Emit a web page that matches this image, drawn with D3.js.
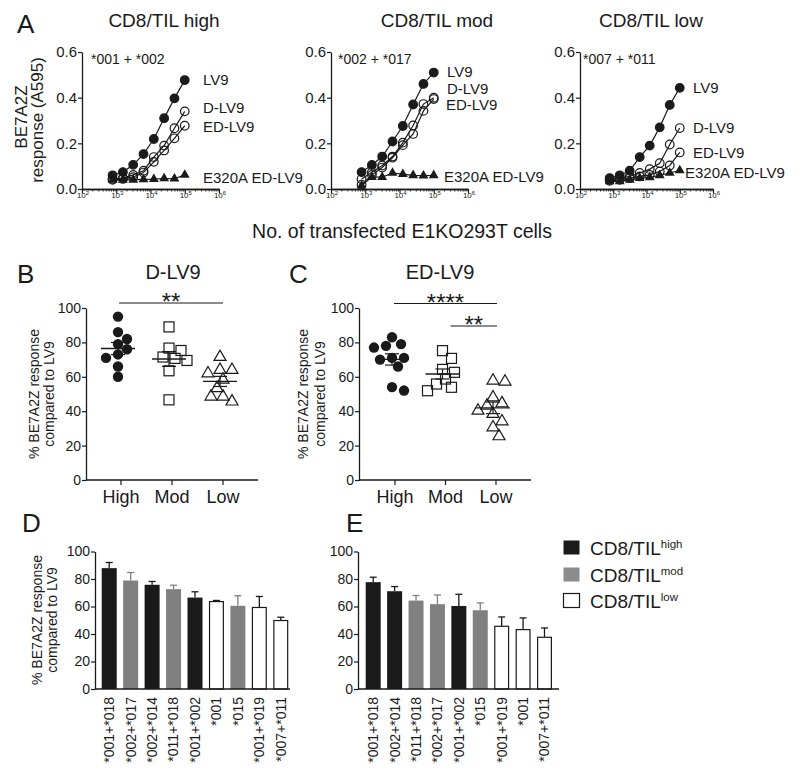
<!DOCTYPE html>
<html><head><meta charset="utf-8">
<script src="https://cdn.jsdelivr.net/npm/d3@7"></script>
<style>
body{margin:0;background:#fff}
svg{display:block}
text{font-family:"Liberation Sans",Arial,Helvetica,sans-serif;fill:#1a1a1a}
</style>
</head><body>
<svg id="c" width="800" height="777"></svg>
<script>
// ---------------- DATA ----------------
// Panel A: number of transfected cells (x) and responses (A595)
const cellsA = [781, 1563, 3125, 6250, 12500, 25000, 50000, 100000];
const seriesNamesA = ["LV9", "D-LV9", "ED-LV9", "E320A ED-LV9"];
const panelTitlesA = ["CD8/TIL high", "CD8/TIL mod", "CD8/TIL low"];
const donorLabelsA = ["*001 + *002", "*002 + *017", "*007 + *011"];
const highLV9   = [0.060, 0.074, 0.106, 0.153, 0.219, 0.310, 0.397, 0.477];
const highDLV9  = [0.044, 0.048, 0.062, 0.080, 0.140, 0.190, 0.266, 0.340];
const highEDLV9 = [0.040, 0.044, 0.052, 0.072, 0.119, 0.169, 0.222, 0.277];
const highE320A = [0.040, 0.040, 0.040, 0.042, 0.043, 0.046, 0.045, 0.062];
const modLV9    = [0.074, 0.105, 0.142, 0.208, 0.276, 0.370, 0.460, 0.510];
const modDLV9   = [0.044, 0.073, 0.103, 0.142, 0.203, 0.278, 0.372, 0.400];
const modEDLV9  = [0.019, 0.062, 0.094, 0.137, 0.192, 0.241, 0.342, 0.394];
const modE320A  = [0.015, 0.052, 0.052, 0.070, 0.065, 0.060, 0.058, 0.060];
const lowLV9    = [0.048, 0.060, 0.080, 0.140, 0.190, 0.270, 0.368, 0.443];
const lowDLV9   = [0.040, 0.048, 0.055, 0.070, 0.087, 0.113, 0.195, 0.267];
const lowEDLV9  = [0.036, 0.040, 0.048, 0.055, 0.062, 0.077, 0.103, 0.160];
const lowE320A  = [0.033, 0.033, 0.040, 0.048, 0.051, 0.060, 0.070, 0.081];
const yTicksA = [0, 0.2, 0.4, 0.6];
const xExponentsA = [2, 3, 4, 5, 6];

// Panels B and C: % response compared to LV9
const groupsBC = ["High", "Mod", "Low"];
const dlv9High  = [95, 86, 82, 79, 76, 73, 71, 66, 60];
const dlv9Mod   = [89, 75.3, 76.7, 71.5, 69.5, 70.7, 63.5, 46.6];
const dlv9Low   = [71.5, 64, 64, 62, 58.3, 53.4, 48.5, 48.5, 45.6];
const edlv9High = [83, 79, 78, 77, 71, 71, 70, 66, 54, 52];
const edlv9Mod  = [75.2, 70.7, 64.3, 62.6, 58.7, 55.8, 53.9, 51.9];
const edlv9Low  = [57.8, 57.2, 48, 44.6, 43.2, 38.4, 40.3, 34.1, 30.6, 25.4];
const yTicksPct = [0, 20, 40, 60, 80, 100];

// Panels D and E: mean % response per haplotype, with upper error
const allelesD = ["*001+*018", "*002+*017", "*002+*014", "*011+*018", "*001+*002", "*001", "*015", "*001+*019", "*007+*011"];
const levelD   = ["high", "mod", "high", "mod", "high", "low", "mod", "low", "low"];
const meanD    = [87.9, 78.9, 75.8, 72.6, 66.5, 63.6, 60.5, 59.3, 49.8];
const errD     = [4.1, 5.8, 2.4, 2.9, 4.2, 0.8, 7.3, 8.0, 2.4];
const allelesE = ["*001+*018", "*002+*014", "*011+*018", "*002+*017", "*001+*002", "*015", "*001+*019", "*001", "*007+*011"];
const levelE   = ["high", "high", "mod", "mod", "high", "mod", "low", "low", "low"];
const meanE    = [77.7, 71.1, 64.3, 61.7, 60.4, 57.3, 45.6, 43.2, 37.6];
const errE     = [3.6, 3.4, 3.7, 6.7, 8.5, 5.3, 6.8, 8.5, 6.8];
const legendLevels = ["high", "mod", "low"];

// ---------------- DRAWING ----------------
const svg = d3.select("#c");
const INK = "#1a1a1a";
const GRAY = "#808080";
const fillOf = {high: INK, mod: GRAY, low: "#ffffff"};
const errColOf = {high: INK, mod: GRAY, low: INK};

function text(x, y, s, size, anchor = "start", rot = false) {
  const t = svg.append("text").attr("x", x).attr("y", y)
    .attr("font-size", size).attr("text-anchor", anchor).text(s);
  if (rot) t.attr("transform", `rotate(-90,${x},${y})`);
  return t;
}
function styleAxis(g) {
  g.selectAll(".domain").attr("stroke", INK).attr("stroke-width", 1.3);
  g.selectAll(".tick line").attr("stroke", INK).attr("stroke-width", 1.2);
  g.selectAll(".tick text").attr("fill", INK).style("font-family", '"Liberation Sans",Arial,sans-serif');
}

// ----- Panel A -----
text(17, 33, "A", 26);
text(27, 117, "BE7A2Z", 17, "middle", true);
text(43, 120, "response (A595)", 17, "middle", true);
text(402, 238, "No. of transfected E1KO293T cells", 19.5, "middle");

const seriesA = [
  [highLV9, highDLV9, highEDLV9, highE320A],
  [modLV9, modDLV9, modEDLV9, modE320A],
  [lowLV9, lowDLV9, lowEDLV9, lowE320A]
];
const markerA = ["filled", "open", "open", "tri"];
const layoutA = [
  {left: 82,  width: 137, titleX: 164, donorX: 91,  labelX: [203,203,203,203], labelY: [85, 113, 132, 183]},
  {left: 331, width: 137, titleX: 437, donorX: 338, labelX: [447,447,446,444], labelY: [77, 93.5, 110, 182]},
  {left: 580, width: 133, titleX: 651, donorX: 583, labelX: [693,693,693,685], labelY: [93, 133, 158, 178]}
];
const yA = d3.scaleLinear().domain([0, 0.6]).range([189, 52]);

layoutA.forEach((L, i) => {
  const x = d3.scaleLog().domain([1e2, 1e6]).range([L.left, L.left + L.width]);
  text(L.titleX, 27, panelTitlesA[i], 19, "middle");
  text(L.donorX, 64, donorLabelsA[i], 14);

  const gy = svg.append("g").attr("transform", `translate(${L.left},0)`)
    .call(d3.axisLeft(yA).tickValues(yTicksA).tickFormat(d3.format(".1f")).tickSize(4).tickSizeOuter(0));
  gy.selectAll(".tick text").attr("font-size", 15).attr("x", -5);
  styleAxis(gy);

  const minors = [];
  xExponentsA.slice(0, -1).forEach(e => { for (let m = 2; m <= 9; m++) minors.push(m * Math.pow(10, e)); });
  const gm = svg.append("g").attr("transform", `translate(0,189)`)
    .call(d3.axisBottom(x).tickValues(minors).tickFormat("").tickSize(2.5).tickSizeOuter(0));
  styleAxis(gm);
  gm.selectAll(".tick line").attr("stroke-width", 0.9);
  const gx = svg.append("g").attr("transform", `translate(0,189)`)
    .call(d3.axisBottom(x).tickValues(xExponentsA.map(e => Math.pow(10, e))).tickFormat("").tickSize(4.5).tickSizeOuter(0));
  styleAxis(gx);
  xExponentsA.forEach(e => {
    const t = text(x(Math.pow(10, e)) + 1, 198, "10", 8, "middle");
    t.append("tspan").attr("dy", -3.5).attr("font-size", 6).text(e);
  });

  const line = d3.line().x(d => x(d[0])).y(d => yA(d[1]));
  seriesA[i].forEach((vals, s) => {
    const pts = cellsA.map((c, k) => [c, vals[k]]);
    svg.append("path").datum(pts).attr("d", line)
      .attr("fill", "none").attr("stroke", INK).attr("stroke-width", 1.2);
  });
  seriesA[i].forEach((vals, s) => {
    const pts = cellsA.map((c, k) => [c, vals[k]]);
    const g = svg.append("g");
    if (markerA[s] === "tri") {
      g.selectAll("path").data(pts).join("path")
        .attr("d", d3.symbol(d3.symbolTriangle, 42))
        .attr("transform", d => `translate(${x(d[0])},${yA(d[1])})`)
        .attr("fill", INK);
    } else {
      g.selectAll("circle").data(pts).join("circle")
        .attr("cx", d => x(d[0])).attr("cy", d => yA(d[1])).attr("r", 4.3)
        .attr("fill", markerA[s] === "filled" ? INK : "none")
        .attr("stroke", INK).attr("stroke-width", 1.2);
    }
    text(L.labelX[s], L.labelY[s], seriesNamesA[s], 15);
  });
});

// ----- Panels B, C -----
const yPct = d3.scaleLinear().domain([0, 100]).range([480, 308]);
const layoutBC = [
  {sets: [dlv9High, dlv9Mod, dlv9Low], axisX: 86, range: [121, 223], axisEnd: 258,
   title: "D-LV9", titleX: 173, letter: "B", letterX: 17, ylabX: [38.5, 54],
   sigs: [{a: "High", b: "Low", y: 303, s: "**", da: -2, db: 0}]},
  {sets: [edlv9High, edlv9Mod, edlv9Low], axisX: 359, range: [395, 496], axisEnd: 531,
   title: "ED-LV9", titleX: 440, letter: "C", letterX: 289, ylabX: [308, 325],
   sigs: [{a: "High", b: "Low", y: 303.5, s: "****", da: -1, db: 1}, {a: "Mod", b: "Low", y: 326, s: "**", da: 5, db: 1}]}
];
const shapes = ["circle", "square", "triangle"];

function swarm(vals, cx, r) {
  const order = vals.map((v, i) => i).sort((a, b) => vals[b] - vals[a]);
  const placed = [];
  const out = new Array(vals.length);
  order.forEach(i => {
    const py = yPct(vals[i]);
    for (let k = 0; k < 40; k++) {
      const off = (k % 2 ? 1 : -1) * Math.ceil(k / 2) * 3;
      const px = cx + off;
      if (placed.every(p => Math.hypot(p[0] - px, p[1] - py) >= 2 * r - 0.5)) {
        placed.push([px, py]); out[i] = [px, py]; break;
      }
      if (k === 39) { placed.push([px, py]); out[i] = [px, py]; }
    }
  });
  return out;
}

layoutBC.forEach(L => {
  const x = d3.scalePoint().domain(groupsBC).range(L.range);
  text(L.letterX, 283, L.letter, 26);
  text(L.titleX, 279, L.title, 20, "middle");
  text(L.ylabX[0], 394, "% BE7A2Z response", 14, "middle", true);
  text(L.ylabX[1], 394, "compared to LV9", 14, "middle", true);

  const gy = svg.append("g").attr("transform", `translate(${L.axisX},0)`)
    .call(d3.axisLeft(yPct).tickValues(yTicksPct).tickSize(4).tickSizeOuter(0));
  gy.selectAll(".tick text").attr("font-size", 14).attr("x", -5);
  styleAxis(gy);
  const gx = svg.append("g").attr("transform", `translate(0,480)`);
  gx.append("line").attr("x1", L.axisX).attr("x2", L.axisEnd).attr("y1", 0).attr("y2", 0)
    .attr("stroke", INK).attr("stroke-width", 1.3);
  groupsBC.forEach(gname => {
    gx.append("line").attr("x1", x(gname)).attr("x2", x(gname)).attr("y1", 0).attr("y2", 5)
      .attr("stroke", INK).attr("stroke-width", 1.2);
    text(x(gname), 503, gname, 18, "middle");
  });

  L.sets.forEach((vals, gi) => {
    const cx = x(groupsBC[gi]) - 3;
    const pts = swarm(vals, cx, 5.2);
    const g = svg.append("g");
    pts.forEach(p => {
      if (shapes[gi] === "circle") {
        g.append("circle").attr("cx", p[0]).attr("cy", p[1]).attr("r", 5.2).attr("fill", INK);
      } else if (shapes[gi] === "square") {
        g.append("rect").attr("x", p[0] - 5).attr("y", p[1] - 5).attr("width", 10).attr("height", 10)
          .attr("fill", "none").attr("stroke", INK).attr("stroke-width", 1.2);
      } else {
        g.append("path").attr("d", d3.symbol(d3.symbolTriangle, 62)())
          .attr("transform", `translate(${p[0]},${p[1]})`)
          .attr("fill", "none").attr("stroke", INK).attr("stroke-width", 1.2);
      }
    });
    const m = d3.mean(vals);
    const sem = d3.deviation(vals) / Math.sqrt(vals.length);
    const mx = x(groupsBC[gi]) - 3;
    g.append("line").attr("x1", mx - 17).attr("x2", mx + 17).attr("y1", yPct(m)).attr("y2", yPct(m))
      .attr("stroke", INK).attr("stroke-width", 1.3);
    g.append("line").attr("x1", mx).attr("x2", mx).attr("y1", yPct(m - sem)).attr("y2", yPct(m + sem))
      .attr("stroke", INK).attr("stroke-width", 1.2);
    [m - sem, m + sem].forEach(v => g.append("line").attr("x1", mx - 7).attr("x2", mx + 7)
      .attr("y1", yPct(v)).attr("y2", yPct(v)).attr("stroke", INK).attr("stroke-width", 1.2));
  });

  L.sigs.forEach(s => {
    const x1 = x(s.a) + s.da, x2 = x(s.b) + s.db;
    svg.append("line").attr("x1", x1).attr("x2", x2).attr("y1", s.y).attr("y2", s.y)
      .attr("stroke", INK).attr("stroke-width", 1.2);
    text((x1 + x2) / 2, s.y + 7, s.s, 24, "middle");
  });
});

// ----- Panels D, E -----
const yBar = d3.scaleLinear().domain([0, 100]).range([689, 551.5]);
const layoutDE = [
  {names: allelesD, levels: levelD, means: meanD, errs: errD, axisX: 95, range: [98.5, 291.5], axisEnd: 290,
   letter: "D", letterX: 22, ylab: true},
  {names: allelesE, levels: levelE, means: meanE, errs: errE, axisX: 358, range: [362.5, 555.2], axisEnd: 559,
   letter: "E", letterX: 346, ylab: false}
];
layoutDE.forEach(L => {
  const x = d3.scaleBand().domain(L.names).range(L.range).paddingInner(0.3).paddingOuter(0.15);
  text(L.letterX, 532, L.letter, 26);
  if (L.ylab) {
    text(42, 620, "% BE7A2Z response", 14, "middle", true);
    text(57, 620, "compared to LV9", 14, "middle", true);
  }
  const g = svg.append("g");
  L.names.forEach((n, i) => {
    const lv = L.levels[i];
    const x0 = x(n), w = x.bandwidth(), cx = x0 + w / 2;
    const top = yBar(L.means[i]), etop = yBar(L.means[i] + L.errs[i]);
    g.append("line").attr("x1", cx).attr("x2", cx).attr("y1", top).attr("y2", etop)
      .attr("stroke", errColOf[lv]).attr("stroke-width", 1.3);
    g.append("line").attr("x1", cx - 3.5).attr("x2", cx + 3.5).attr("y1", etop).attr("y2", etop)
      .attr("stroke", errColOf[lv]).attr("stroke-width", 1.3);
    g.append("rect").attr("x", x0 + (lv === "low" ? 0.6 : 0)).attr("y", top)
      .attr("width", w - (lv === "low" ? 1.2 : 0)).attr("height", yBar(0) - top)
      .attr("fill", fillOf[lv]).attr("stroke", lv === "low" ? INK : "none").attr("stroke-width", 1.2);
    text(cx, 697, n, 14, "end", true).attr("dy", "0.35em");
  });
  const gy = svg.append("g").attr("transform", `translate(${L.axisX},0)`)
    .call(d3.axisLeft(yBar).tickValues(yTicksPct).tickSize(4).tickSizeOuter(0));
  gy.selectAll(".tick text").attr("font-size", 14).attr("x", -5);
  styleAxis(gy);
  svg.append("line").attr("x1", L.axisX).attr("x2", L.axisEnd).attr("y1", 689).attr("y2", 689)
    .attr("stroke", INK).attr("stroke-width", 1.3);
});

// ----- Legend -----
const legY = [540, 567, 593];
legendLevels.forEach((lv, i) => {
  svg.append("rect").attr("x", 563.5).attr("y", legY[i] + 0.5).attr("width", 16).attr("height", 14)
    .attr("fill", lv === "mod" ? "#8c8c8c" : fillOf[lv]).attr("stroke", lv === "low" ? INK : "none").attr("stroke-width", 1.2);
  const t = text(590, legY[i] + 14.5, "CD8/TIL", 19);
  t.append("tspan").attr("dy", -7).attr("font-size", 11.5).text(lv);
});
</script>
</body></html>
